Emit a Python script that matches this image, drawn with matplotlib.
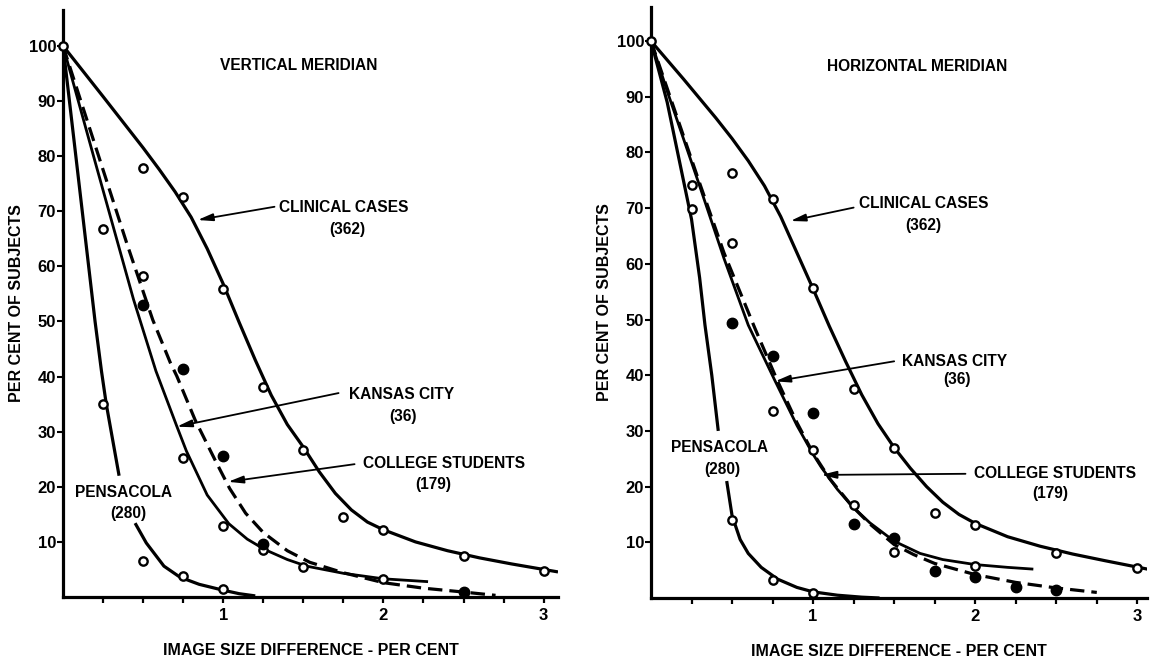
import numpy as np
import matplotlib
matplotlib.use('Agg')
import matplotlib.pyplot as plt

plt.rcParams['font.family'] = ['Liberation Sans', 'DejaVu Sans']
plt.rcParams['font.weight'] = 'bold'
plt.rcParams['axes.labelweight'] = 'bold'

# ---- vertical meridian: measured points
v_clin_x = [0, 0.5, 0.75, 1.0, 1.25, 1.5, 1.75, 2.0, 2.5, 3.0]
v_clin_y = [100, 77.8, 72.6, 55.9, 38.1, 26.7, 14.5, 12.1, 7.4, 4.7]
v_kc_x = [0.25, 0.5, 0.75, 1.0, 1.25, 1.5, 2.0]
v_kc_y = [66.8, 58.3, 25.2, 12.8, 8.5, 5.5, 3.2]
v_col_x = [0.5, 0.75, 1.0, 1.25, 2.5]
v_col_y = [52.9, 41.4, 25.5, 9.6, 0.9]
v_pen_x = [0.25, 0.5, 0.75, 1.0]
v_pen_y = [35, 6.6, 3.8, 1.5]

# vertical meridian: hand drawn curves
v_clin_cx = [0, 0.25, 0.5, 0.6, 0.7, 0.8, 0.9, 1.0, 1.1, 1.2, 1.3, 1.4, 1.5, 1.6, 1.7, 1.8, 1.9, 2.0, 2.2, 2.4, 2.6, 2.8, 3.02, 3.08]
v_clin_cy = [100, 90.8, 81.5, 77.6, 73.5, 68.9, 63.2, 56.8, 49.8, 43, 36.6, 31.3, 27.2, 22.7, 18.8, 15.8, 13.6, 12.2, 10, 8.4, 7.1, 6, 4.9, 4.6]
v_kc_cx = [0, 0.2, 0.44, 0.58, 0.71, 0.77, 0.9, 1.035, 1.15, 1.26, 1.4, 1.52, 1.75, 2.0, 2.27]
v_kc_cy = [100, 79, 54, 41, 31, 26.5, 18.5, 13.3, 10.5, 8.6, 6.8, 5.6, 4.3, 3.3, 2.8]
v_col_cx = [0, 0.2, 0.4, 0.56, 0.67, 0.71, 0.825, 0.95, 1.04, 1.14, 1.25, 1.4, 1.54, 1.75, 2.0, 2.25, 2.5, 2.7]
v_col_cy = [100, 82, 64, 50.3, 42.5, 40.1, 32.1, 24.8, 19.7, 15.2, 11.7, 8.4, 6.3, 4.4, 2.6, 1.6, 0.9, 0.3]
v_pen_cx1 = [0, 0.1, 0.2, 0.24, 0.27, 0.31, 0.35]
v_pen_cy1 = [100, 75, 50, 41, 35, 28.5, 22]
v_pen_cx2 = [0.45, 0.52, 0.63, 0.73, 0.85, 0.99, 1.1, 1.2]
v_pen_cy2 = [13.4, 9.8, 5.6, 3.6, 2.3, 1.3, 0.6, 0.2]

# ---- horizontal meridian: measured points
h_clin_x = [0, 0.5, 0.75, 1.0, 1.25, 1.5, 1.75, 2.0, 2.5, 3.0]
h_clin_y = [100, 76.4, 71.7, 55.7, 37.6, 26.9, 15.2, 13.1, 8.1, 5.4]
h_kc_x = [0.25, 0.5, 0.75, 1.0, 1.25, 1.5, 2.0]
h_kc_y = [74.2, 63.8, 33.6, 26.6, 16.7, 8.3, 5.7]
h_col_x = [0.5, 0.75, 1.0, 1.25, 1.5, 1.75, 2.0, 2.25, 2.5]
h_col_y = [49.4, 43.4, 33.2, 13.3, 10.8, 4.9, 3.8, 2.0, 1.4]
h_pen_x = [0.25, 0.5, 0.75, 1.0]
h_pen_y = [69.9, 14.0, 3.2, 0.9]

h_clin_cx = [0, 0.2, 0.4, 0.5, 0.6, 0.7, 0.8, 0.9, 1.0, 1.1, 1.2, 1.3, 1.4, 1.5, 1.6, 1.7, 1.8, 1.9, 2.0, 2.2, 2.4, 2.6, 2.8, 3.06]
h_clin_cy = [100, 93.2, 86.2, 82.5, 78.5, 74, 68.5, 62, 55.5, 48.8, 42.5, 36.5, 31.3, 27, 23.3, 20, 17.2, 15, 13.4, 11, 9.3, 7.9, 6.7, 5.2]
h_kc_cx = [0, 0.1, 0.3, 0.45, 0.6, 0.765, 0.9, 1.0, 1.05, 1.15, 1.24, 1.35, 1.5, 1.66, 1.8, 2.0, 2.2, 2.35]
h_kc_cy = [100, 91, 74, 61, 49, 39, 31, 25.8, 23.5, 19.5, 16.5, 13.5, 10.2, 8, 6.9, 6, 5.5, 5.2]
h_col_cx = [0, 0.1, 0.3, 0.45, 0.64, 0.78, 0.9, 1.0, 1.1, 1.24, 1.35, 1.5, 1.62, 1.75, 2.0, 2.25, 2.5, 2.75]
h_col_cy = [100, 91.5, 74.5, 62, 48.5, 39, 31.5, 26, 21.5, 16.5, 13.3, 9.6, 7.8, 6.2, 4.2, 2.8, 1.8, 1.0]
h_pen_cx1 = [0, 0.1, 0.2, 0.25, 0.3, 0.333, 0.375, 0.415]
h_pen_cy1 = [100, 89, 75, 68, 57.5, 49, 40, 30]
h_pen_cx2 = [0.467, 0.5, 0.55, 0.6, 0.68, 0.78, 0.9, 1.0, 1.15, 1.3, 1.41]
h_pen_cy2 = [21, 14.8, 10.5, 8, 5.5, 3.4, 1.9, 1.1, 0.5, 0.15, 0]

yticks = [10, 20, 30, 40, 50, 60, 70, 80, 90, 100]
xticks_minor = np.arange(0.25, 3.01, 0.25)
xticks_major = [1, 2, 3]


def draw(ax, c, p, title, labels, arrows, xmax, ymax):
    # curves
    ax.plot(c['clin'][0], c['clin'][1], color='k', lw=2.3)
    ax.plot(c['kc'][0], c['kc'][1], color='k', lw=2.0)
    ax.plot(c['col'][0], c['col'][1], color='k', lw=2.3, dashes=(4.5, 2.2))
    ax.plot(c['pen1'][0], c['pen1'][1], color='k', lw=2.3, solid_capstyle='butt')
    ax.plot(c['pen2'][0], c['pen2'][1], color='k', lw=2.3, solid_capstyle='butt')
    # points
    op = dict(ls='none', marker='o', mfc='white', mec='k', ms=6, mew=1.7, clip_on=False, zorder=5)
    ax.plot(p['clin'][0], p['clin'][1], **op)
    ax.plot(p['kc'][0], p['kc'][1], **op)
    ax.plot(p['pen'][0], p['pen'][1], **op)
    ax.plot(p['col'][0], p['col'][1], ls='none', marker='o', color='k', ms=7.5, clip_on=False, zorder=5)

    ax.text(title[0], title[1], title[2], ha='center', va='center', fontsize=11.2)
    for x, y, s in labels:
        ax.text(x, y, s, ha='center', va='center', fontsize=11.2)
    for (x0, y0), (x1, y1) in arrows:
        ax.annotate('', xy=(x1, y1), xytext=(x0, y0),
                    arrowprops=dict(arrowstyle='-|>,head_length=0.9,head_width=0.22',
                                    color='k', lw=1.3, shrinkA=0, shrinkB=0))

    ax.set_xlim(0, xmax)
    ax.set_ylim(0, ymax)
    for s in ['top', 'right']:
        ax.spines[s].set_visible(False)
    for s in ['left', 'bottom']:
        ax.spines[s].set_linewidth(2.3)
    ax.set_yticks(yticks)
    ax.set_xticks(xticks_major)
    ax.set_xticks(xticks_minor, minor=True)
    ax.tick_params(axis='y', direction='out', length=4, width=1.5, pad=1, labelsize=12)
    ax.tick_params(axis='x', which='both', direction='out', length=4, width=1.6, pad=4, labelsize=12)
    ax.set_xlabel('IMAGE SIZE DIFFERENCE - PER CENT', fontsize=11.5, labelpad=14)
    ax.set_ylabel('PER CENT OF SUBJECTS', fontsize=11.5, labelpad=3)


fig = plt.figure(figsize=(11.52, 6.58), dpi=100)
ax1 = fig.add_axes([0.0547, 0.0927, 0.4297, 0.8921])
ax2 = fig.add_axes([0.5651, 0.0912, 0.4306, 0.898])

draw(ax1,
     dict(clin=(v_clin_cx, v_clin_cy), kc=(v_kc_cx, v_kc_cy), col=(v_col_cx, v_col_cy),
          pen1=(v_pen_cx1, v_pen_cy1), pen2=(v_pen_cx2, v_pen_cy2)),
     dict(clin=(v_clin_x, v_clin_y), kc=(v_kc_x, v_kc_y), col=(v_col_x, v_col_y), pen=(v_pen_x, v_pen_y)),
     (1.47, 96.4, 'VERTICAL MERIDIAN'),
     [(1.755, 70.6, 'CLINICAL CASES'), (1.775, 66.6, '(362)'),
      (2.115, 36.7, 'KANSAS CITY'), (2.12, 32.7, '(36)'),
      (2.38, 24.3, 'COLLEGE STUDENTS'), (2.31, 20.5, '(179)'),
      (0.38, 18.9, 'PENSACOLA'), (0.41, 15.2, '(280)')],
     [((1.32, 70.8), (0.84, 68.4)), ((1.72, 37.0), (0.71, 30.9)), ((1.82, 24.1), (1.03, 20.9))],
     3.09, 106.5)

draw(ax2,
     dict(clin=(h_clin_cx, h_clin_cy), kc=(h_kc_cx, h_kc_cy), col=(h_col_cx, h_col_cy),
          pen1=(h_pen_cx1, h_pen_cy1), pen2=(h_pen_cx2, h_pen_cy2)),
     dict(clin=(h_clin_x, h_clin_y), kc=(h_kc_x, h_kc_y), col=(h_col_x, h_col_y), pen=(h_pen_x, h_pen_y)),
     (1.64, 95.5, 'HORIZONTAL MERIDIAN'),
     [(1.685, 70.8, 'CLINICAL CASES'), (1.68, 66.8, '(362)'),
      (1.875, 42.5, 'KANSAS CITY'), (1.89, 39.3, '(36)'),
      (2.49, 22.3, 'COLLEGE STUDENTS'), (2.46, 18.7, '(179)'),
      (0.42, 27.0, 'PENSACOLA'), (0.44, 23.1, '(280)')],
     [((1.25, 70.1), (0.86, 67.7)), ((1.5, 42.5), (0.765, 38.9)), ((1.94, 22.3), (1.05, 22.1))],
     3.06, 106.1)

fig.savefig('out.png', dpi=100, facecolor='white')
